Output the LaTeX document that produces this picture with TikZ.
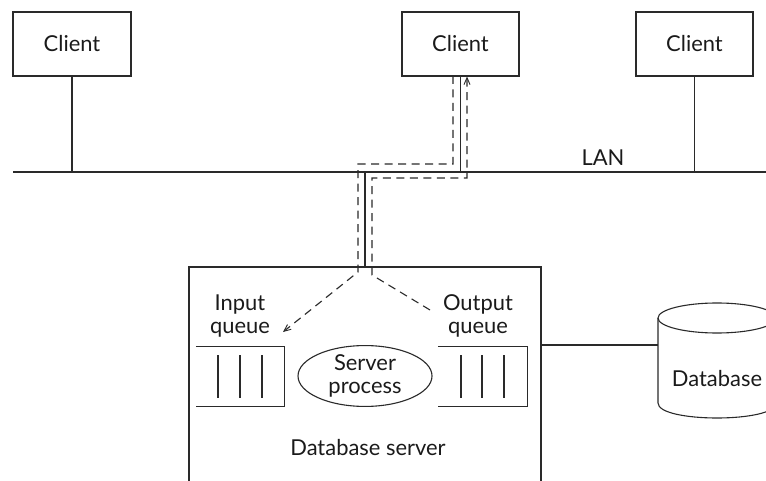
\documentclass[tikz,border=0pt]{standalone}
\usepackage{fontspec}
\setmainfont{Lato}
\usetikzlibrary{arrows.meta,shapes.geometric}
\definecolor{ln}{HTML}{2a2a2a}
\definecolor{tx}{HTML}{1a1a1a}
\tikzset{
  lbl/.style={text=tx,font=\fontsize{22}{23.5}\selectfont,inner sep=0pt,align=center},
  box/.style={draw=ln,line width=1.1bp,rectangle,inner sep=0pt,text=tx,font=\fontsize{22}{23.5}\selectfont},
  wire/.style={draw=ln,line width=1.1bp},
  flow/.style={draw=ln,line width=1.1bp,dash pattern=on 8bp off 5.5bp},
  tip/.style={-{Straight Barb[length=7bp,width=6bp,line width=0.9bp]}},
}
\begin{document}
\begin{tikzpicture}[x=1bp,y=-1bp]
\useasboundingbox (0,0) rectangle (766,481);
\clip (0,0) rectangle (766,481);
% clients
\node[box,minimum width=118bp,minimum height=64bp] (c1) at (72,44) {Client};
\node[box,minimum width=117bp,minimum height=64bp] (c2) at (460.5,44) {Client};
\node[box,minimum width=117bp,minimum height=64bp] (c3) at (694.5,44) {Client};
% LAN
\coordinate (lanL) at (13,172);
\coordinate (lanR) at (770,172);
\draw[wire] (lanL) -- (lanR);
\node[lbl] (lan) at (603,158) {LAN};
\draw[wire] (c1.south) -- (c1.south |- lanL);
\draw[wire] (c2.south) -- (c2.south |- lanL);
\draw[wire] (c3.south) -- (c3.south |- lanL);
% server box
\node[box,minimum width=352bp,minimum height=260bp] (srv) at (365,397) {};
\draw[wire] (srv.north) -- (srv.north |- lanL);
\node[lbl] (srvlbl) at (368,448) {Database server};
% queues
\node[inner sep=0pt,minimum width=88bp,minimum height=59bp] (iq) at (240,376.5) {};
\draw[wire] (iq.north west) -- (iq.north east) -- (iq.south east) -- (iq.south west);
\foreach \x in {218,240,262} \draw[wire] (\x,355) -- (\x,398);
\node[inner sep=0pt,minimum width=89bp,minimum height=59bp] (oq) at (482.5,376.5) {};
\draw[wire] (oq.north west) -- (oq.north east) -- (oq.south east) -- (oq.south west);
\foreach \x in {461,482,504} \draw[wire] (\x,355) -- (\x,398);
\node[lbl] (iql) at (240,316) {Input\\queue};
\node[lbl] (oql) at (478,316) {Output\\queue};
% server process
\node[draw=ln,line width=1.1bp,ellipse,minimum width=134bp,minimum height=59bp,inner sep=0pt,text=tx,font=\fontsize{22}{23.5}\selectfont,align=center] (sp) at (365,376) {Server\\process};
% database
\coordinate (dbL) at (658,345);
\draw[wire] (srv.east |- dbL) -- (dbL);
\draw[wire] (717,318) ellipse [x radius=59, y radius=15];
\draw[wire] (658,318) -- (658,403) .. controls (658,423) and (776,423) .. (776,403) -- (776,318);
\node[lbl] (db) at (717,379) {Database};
% dashed flows
\coordinate (a0) at (453,76);
\coordinate (a1) at (453,164);
\coordinate (a2) at (358,164);
\coordinate (a3) at (358,272);
\coordinate (a4) at (283,332);
\draw[flow,tip] (a0) -- (a1) -- (a2) -- (a3) -- (a4);
\coordinate (b0) at (430,310);
\coordinate (b1) at (372,275);
\coordinate (b2) at (372,178);
\coordinate (b3) at (467,178);
\coordinate (b4) at (467,76.5);
\draw[flow,tip] (b0) -- (b1) -- (b2) -- (b3) -- (b4);
\end{tikzpicture}
\end{document}
